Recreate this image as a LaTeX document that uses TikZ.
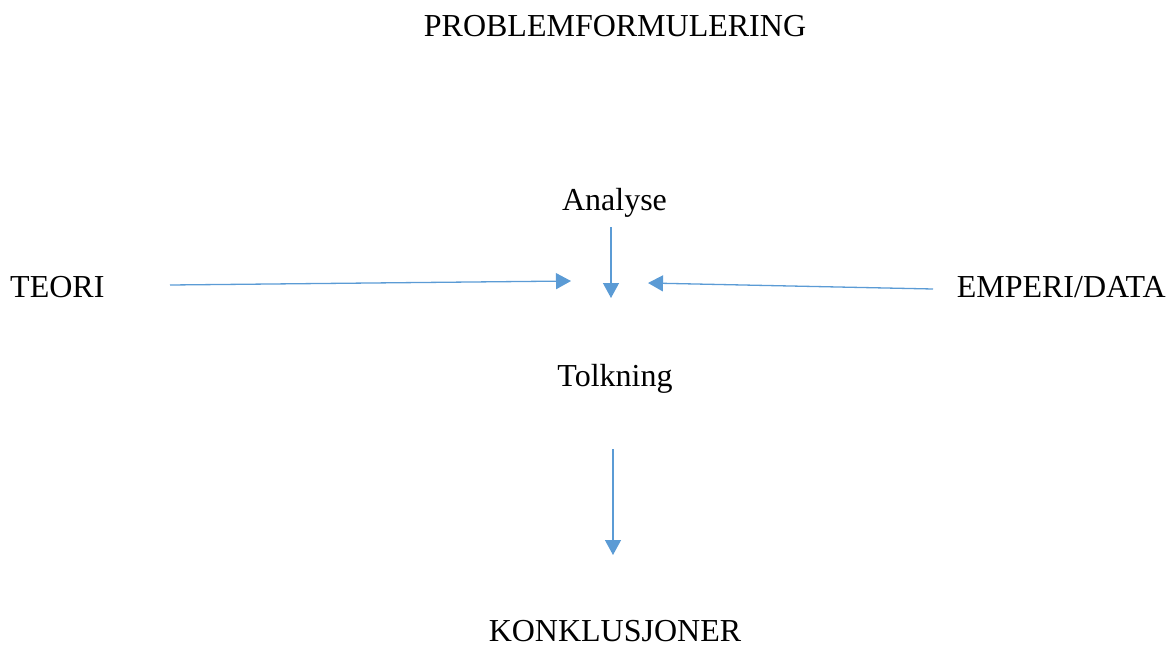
\documentclass[tikz,border=0pt]{standalone}
\usepackage{fontspec}
\setmainfont{Liberation Serif}
\usetikzlibrary{arrows.meta}
\definecolor{arrowblue}{HTML}{5B9BD5}
\tikzset{
  lbl/.style={anchor=base, inner sep=0pt, font=\fontsize{32}{38}\selectfont},
  conn/.style={draw=arrowblue, line width=1.3pt, -{Triangle[length=15pt,width=16pt]}}
}
\begin{document}
\begin{tikzpicture}[x=1pt,y=-1pt]
\useasboundingbox (0,0) rectangle (1176,648);
\node[lbl] (prob) at (615,36) {PROBLEMFORMULERING};
\node[lbl] (analyse) at (614.5,210) {Analyse};
\node[lbl, anchor=base west] (teori) at (10,297) {TEORI};
\node[lbl, anchor=base east] (emp) at (1166,297) {EMPERI/DATA};
\node[lbl] (tolk) at (615,386) {Tolkning};
\node[lbl] (konk) at (615,641) {KONKLUSJONER};
\coordinate (a1s) at (611,227);
\coordinate (a1e) at (611,298);
\coordinate (tls) at (170,285);
\coordinate (tle) at (571,281);
\coordinate (ers) at (933,289);
\coordinate (ere) at (648,283);
\coordinate (t2s) at (613,449);
\coordinate (t2e) at (613,555);
\draw[conn] (a1s) -- (a1e);
\draw[conn] (tls) -- (tle);
\draw[conn] (ers) -- (ere);
\draw[conn] (t2s) -- (t2e);
\end{tikzpicture}
\end{document}
